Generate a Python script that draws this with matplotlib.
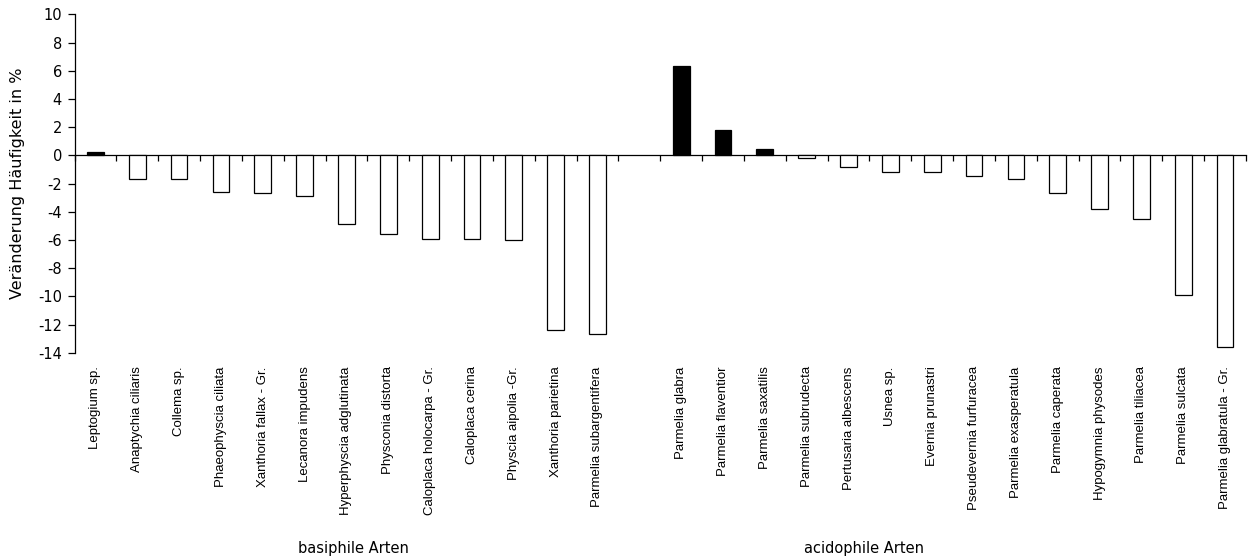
import matplotlib.pyplot as plt
import numpy as np

basi_names = ["Leptogium sp.", "Anaptychia ciliaris", "Collema sp.", "Phaeophyscia ciliata",
              "Xanthoria fallax - Gr.", "Lecanora impudens", "Hyperphyscia adglutinata",
              "Physconia distorta", "Caloplaca holocarpa - Gr.", "Caloplaca cerina",
              "Physcia aipolia -Gr.", "Xanthoria parietina", "Parmelia subargentifera"]
basi_vals = [0.2, -1.7, -1.7, -2.6, -2.7, -2.9, -4.9, -5.6, -5.9, -5.9, -6.0, -12.4, -12.7]

acid_names = ["Parmelia glabra", "Parmelia flaventior", "Parmelia saxatilis", "Parmelia subrudecta",
              "Pertusaria albescens", "Usnea sp.", "Evernia prunastri", "Pseudevernia furfuracea",
              "Parmelia exasperatula", "Parmelia caperata", "Hypogymnia physodes",
              "Parmelia tiliacea", "Parmelia sulcata", "Parmelia glabratula - Gr."]
acid_vals = [6.3, 1.8, 0.45, -0.2, -0.85, -1.15, -1.15, -1.5, -1.7, -2.65, -3.8, -4.55, -9.9, -13.6]

yticks = list(range(-14, 11, 2))

# one empty slot between the two groups
names = basi_names + [""] + acid_names
x_basi = np.arange(len(basi_names))
x_acid = np.arange(len(acid_names)) + len(basi_names) + 1
xs = np.concatenate([x_basi, x_acid])
vs = np.array(basi_vals + acid_vals)

fig = plt.figure(figsize=(12.5, 5.59), dpi=100)
ax = fig.add_axes([0.0596, 0.369, 0.9372, 0.6054])

colors = ["black" if v > 0 else "white" for v in vs]
ax.bar(xs, vs, width=0.4, color=colors, edgecolor="black", linewidth=0.9, zorder=3)

ax.set_xlim(-0.5, len(names) - 0.5)
ax.set_ylim(-14, 10)
ax.set_yticks(yticks)
ax.set_yticklabels([str(t) for t in yticks], fontsize=10.5, family="DejaVu Sans")
ax.tick_params(axis="y", direction="out", length=5, width=0.9, pad=4)

ax.spines["top"].set_visible(False)
ax.spines["right"].set_visible(False)
ax.spines["bottom"].set_position(("data", 0))
ax.spines["bottom"].set_linewidth(0.9)
ax.spines["left"].set_linewidth(0.9)
ax.set_xticks(np.arange(-0.5, len(names), 1.0))
ax.set_xticklabels([])
ax.tick_params(axis="x", direction="out", length=4, width=0.9)

for xi, n in zip(xs, basi_names + acid_names):
    ax.text(xi, -0.04, n, transform=ax.get_xaxis_transform(), rotation=90,
            ha="center", va="top", fontsize=9.5, family="Liberation Sans")

ax.set_ylabel("Veränderung Häufigkeit in %", fontsize=11.5, family="DejaVu Sans")
ax.yaxis.set_label_coords(-0.042, 0.5)

# group labels under the categories
fig.text(353 / 1250, 1 - 548 / 559, "basiphile Arten", ha="center", va="center", fontsize=10.5)
fig.text(863.5 / 1250, 1 - 548 / 559, "acidophile Arten", ha="center", va="center", fontsize=10.5)

plt.savefig("out.png", dpi=100)
